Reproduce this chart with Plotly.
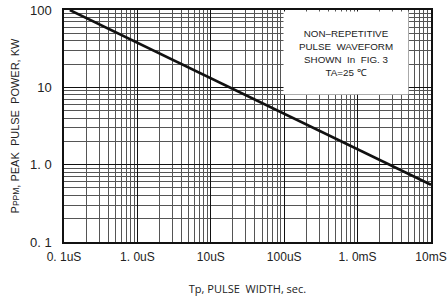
import plotly.graph_objects as go

# Data
pulse_width_s = [1.2e-7, 1.0e-2]
peak_power_kw = [100, 0.55]

x_tick_vals = [1e-7, 1e-6, 1e-5, 1e-4, 1e-3, 1e-2]
x_tick_text = ["0. 1uS", "1. 0uS", "10uS", "100uS", "1. 0mS", "10mS"]
y_tick_vals = [0.1, 1, 10, 100]
y_tick_text = ["0. 1", "1. 0", "10", "100"]

note_lines = ["NON\u2013REPETITIVE", "PULSE  WAVEFORM", "SHOWN  In  FIG. 3", "TA=25 \u2103"]

x_minor = [m * 10 ** e for e in range(-7, -2) for m in range(2, 10)]
y_minor = [m * 10 ** e for e in range(-1, 2) for m in range(2, 10)]

fig = go.Figure()
fig.add_trace(go.Scatter(x=pulse_width_s, y=peak_power_kw, mode="lines",
                         line=dict(color="#111111", width=2.5), showlegend=False))

font_family = "Liberation Sans, Arial, sans-serif"

fig.update_layout(
    width=447, height=302,
    margin=dict(l=64, r=16, t=10, b=60, autoexpand=False),
    paper_bgcolor="white", plot_bgcolor="white",
    font=dict(family=font_family, color="#222222"),
    xaxis=dict(type="log", range=[-7, -2], tickvals=x_tick_vals, ticktext=x_tick_text,
               tickfont=dict(size=12, color="#222"), showgrid=True, gridcolor="#111111", gridwidth=1,
               showline=True, linecolor="#111111", linewidth=1.5, mirror=True, ticks="",
               automargin=False, ticklabelstandoff=3,
               minor=dict(tickvals=x_minor, showgrid=True, gridcolor="#555555", gridwidth=1),
               title=dict(text="Tp, PULSE  WIDTH, sec.", font=dict(size=11, family="Open Sans, sans-serif"), standoff=22),
               zeroline=False),
    yaxis=dict(type="log", range=[-1, 2], tickvals=y_tick_vals, ticktext=y_tick_text,
               tickfont=dict(size=13, color="#222"), showgrid=True, gridcolor="#111111", gridwidth=1,
               showline=True, linecolor="#111111", linewidth=1.5, mirror=True, ticks="",
               automargin=False, ticklabelstandoff=8,
               minor=dict(tickvals=y_minor, showgrid=True, gridcolor="#555555", gridwidth=1),
               title=dict(text="P<span style='font-size:8.5px'>PPM</span>, PEAK  PULSE  POWER, KW",
                          font=dict(size=11), standoff=8),
               zeroline=False),
)

fig.add_annotation(
    xref="x domain", yref="y domain", x=0.768, y=0.815,
    text="<br>".join(note_lines), showarrow=False,
    font=dict(size=9.8, family=font_family, color="#222"),
    align="center", bgcolor="white", width=122, height=80,
    xanchor="center", yanchor="middle",
)

fig.write_html("out.html", config={"displayModeBar": False},
               post_script="document.body.style.margin='0';document.body.style.overflow='hidden';")
